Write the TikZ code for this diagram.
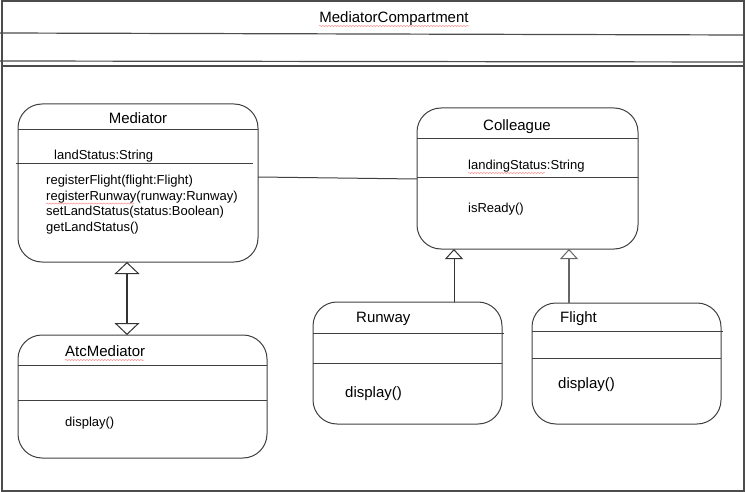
\documentclass[tikz,border=0pt]{standalone}
\usepackage{fontspec}
\setmainfont{Liberation Sans}
\usetikzlibrary{arrows.meta}
\usetikzlibrary{decorations.pathmorphing}

\begin{document}
\begin{tikzpicture}[x=1pt,y=-1pt,
  classbox/.style={draw=black!75,line width=1pt,rounded corners=24pt,outer sep=0pt,inner sep=0pt},
  sep/.style={black!75,line width=1pt},
  heading/.style={anchor=base,inner sep=0pt,font=\fontsize{15pt}{18pt}\selectfont},
  member/.style={anchor=base west,inner sep=0pt,font=\fontsize{13pt}{15.5pt}\selectfont},
  bigmember/.style={member,font=\fontsize{15pt}{18pt}\selectfont},
  squiggle/.style={red!45,line width=0.5pt,decorate,decoration={snake,amplitude=0.6pt,segment length=3pt}},
  gen/.style={-{Triangle[open,length=10pt,width=18pt,line width=1pt]},black!80,line width=1pt}]
  \useasboundingbox (0,0) rectangle (745,492);
  \draw[black!70,line width=1.2pt] (2,1) rectangle (744,491);
  \draw[black!70,line width=1.2pt] (0,33) -- (745,35);
  \draw[black!70,line width=1.2pt] (0,61) -- (745,62);
  \draw[black!70,line width=1.2pt] (2,66) -- (744,66);
  \node[heading] (comp) at (394,22.4) {MediatorCompartment};
  \draw[squiggle] (319,26) -- (469,26);

  \node[classbox,minimum width=240pt,minimum height=158pt] (mediator) at (138,183) {};
  \node[heading] (medname) at (138,123.4) {Mediator};
  \draw[sep] (18,130) -- (258,130);
  \node[member] (landstatus) at (54,159.7) {landStatus:String};
  \draw[sep] (16,164) -- (253,164);
  \foreach \op [count=\i] in {registerFlight(flight:Flight),registerRunway(runway:Runway),setLandStatus(status:Boolean),getLandStatus()}
    \node[member] (medop\i) at (46,{184.7+15.5*(\i-1)}) {\op};
  \draw[squiggle] (46,203.5) -- (134,203.5);

  \node[classbox,minimum width=221pt,minimum height=141pt] (colleague) at (527.5,178.5) {};
  \node[heading] (colname) at (517,130.4) {Colleague};
  \draw[sep] (417,139) -- (638,139);
  \node[member] (landingstatus) at (468,169.7) {landingStatus:String};
  \draw[squiggle] (468,173) -- (545,173);
  \draw[sep] (417,178) -- (638,178);
  \node[member] (isready) at (468,212.7) {isReady()};

  \node[classbox,minimum width=249pt,minimum height=123pt] (atc) at (142.5,396.5) {};
  \node[heading,anchor=base west] (atcname) at (65,356.4) {AtcMediator};
  \draw[squiggle] (65,360) -- (144,360);
  \draw[sep] (18,365) -- (267,365);
  \draw[sep] (18,400) -- (267,400);
  \node[member] (atcdisplay) at (65,426.7) {display()};

  \node[classbox,minimum width=189pt,minimum height=122pt] (runway) at (407.5,363) {};
  \node[heading,anchor=base west] (runname) at (356,322.4) {Runway};
  \draw[sep] (313,333) -- (504,333);
  \draw[sep] (313,363) -- (502,363);
  \node[bigmember] (rundisplay) at (345,397) {display()};

  \node[classbox,minimum width=189pt,minimum height=121pt] (flight) at (626.5,363.5) {};
  \node[heading,anchor=base west] (flname) at (560,322.4) {Flight};
  \draw[sep] (532,331) -- (723,331);
  \draw[sep] (532,358) -- (721,358);
  \node[bigmember] (fldisplay) at (558,388) {display()};

  \draw[sep] (mediator.east |- 0,177) -- (colleague.west |- 0,179);
  \draw[{Triangle[open,length=12pt,width=25pt,line width=1pt]}-{Triangle[open,length=12pt,width=25pt,line width=1pt]},black!80,line width=1.2pt]
    (mediator.south -| 127,0) -- (atc.north -| 127,0);
  \draw[gen] (runway.north -| 454,0) -- (colleague.south -| 454,0);
  \draw[gen,black!60,line width=2.2pt] (flight.north -| 569,0) -- (colleague.south -| 569,0);
\end{tikzpicture}
\end{document}
